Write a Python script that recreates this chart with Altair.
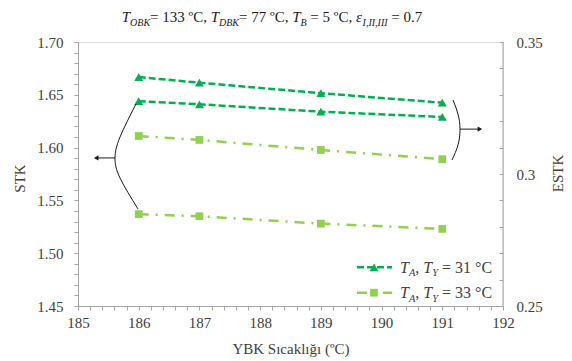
import altair as alt
import pandas as pd

FONT = "Times New Roman, Liberation Serif, serif"
DG = "#00B050"
LG = "#92D050"
AX = "#A6A6A6"
TXT = "#404040"
BLK = "#1a1a1a"

# ---------------- data ----------------
ybk = [186, 187, 189, 191]
stk_ty31 = [1.644, 1.641, 1.634, 1.629]
stk_ty33 = [1.537, 1.535, 1.528, 1.523]
estk_ty31 = [0.3367, 0.3346, 0.3306, 0.3270]
estk_ty33 = [0.3144, 0.3129, 0.3091, 0.3056]

x_ticks = [round(185 + 0.2 * i, 1) for i in range(36)]
stk_ticks = [round(1.45 + 0.01 * i, 2) for i in range(26)]
estk_ticks = [round(0.25 + 0.01 * i, 2) for i in range(11)]

# bracket annotations (data units)
lb_x = [185.955, 185.692, 185.609, 185.692, 185.988]
lb_y = [1.6413, 1.6100, 1.5902, 1.5712, 1.5419]
rb_x = [191.177, 191.259, 191.292, 191.259, 191.160]
rb_y = [0.3280, 0.3227, 0.3170, 0.3110, 0.3053]
l_arrow_x = [185.609, 185.30]
r_arrow_x = [191.292, 191.62]

title_pieces = [("T", 1, 0), ("OBK", 1, 1), ("= 133 ºC, ", 0, 0),
                ("T", 1, 0), ("DBK", 1, 1), ("= 77 ºC, ", 0, 0),
                ("T", 1, 0), ("B", 1, 1), (" = 5 ºC, ", 0, 0),
                ("ε", 1, 0), ("I,II,III", 1, 1), (" = 0.7", 0, 0)]
leg31 = [("T", 1, 0), ("A", 1, 1), (", ", 0, 0), ("T", 1, 0), ("Y", 1, 1), (" = 31 °C", 0, 0)]
leg33 = [("T", 1, 0), ("A", 1, 1), (", ", 0, 0), ("T", 1, 0), ("Y", 1, 1), (" = 33 °C", 0, 0)]

# ---------------- helpers ----------------
REG = {" ": 250, "=": 564, "º": 310, "°": 400, "C": 667, ",": 250, ".": 250}
for d in "0123456789":
    REG[d] = 500
ITA = {"T": 556, "O": 722, "B": 611, "K": 667, "D": 722, "I": 333, ",": 250,
       "A": 611, "Y": 556, "ε": 440}

dummy = pd.DataFrame({"k": [0]})


def w(s, it, size):
    tbl = ITA if it else REG
    return sum(tbl.get(c, 500) for c in s) / 1000.0 * size


def rich(pieces, x0, y0, size, sub_size, sub_dy, color, center=False):
    total = sum(w(t, it, sub_size if sb else size) for t, it, sb in pieces)
    x = x0 - total / 2 if center else x0
    out = []
    for t, it, sb in pieces:
        fs = sub_size if sb else size
        lead = len(t) - len(t.lstrip(" "))
        txt = t.strip(" ")
        xs = x + w(" " * lead, False, fs)
        out.append(
            alt.Chart(dummy).mark_text(
                text=txt, font=FONT, fontSize=fs,
                fontStyle="italic" if it else "normal",
                align="left", baseline="alphabetic", color=color
            ).encode(x=alt.value(xs), y=alt.value(y0 + (sub_dy if sb else 0)))
        )
        x += w(t, it, fs)
    return out


axis_common = dict(domainColor=AX, tickColor=AX, tickSize=4, labelFont=FONT,
                   labelFontSize=15, labelColor=TXT, titleFont=FONT, titleFontSize=15,
                   titleFontWeight="normal", titleColor=TXT, grid=False,
                   labelFlush=False, labelOverlap=False, labelBound=False)

X = alt.X("x:Q", scale=alt.Scale(domain=[185, 192], nice=False, zero=False),
          axis=alt.Axis(values=x_ticks, orient="bottom",
                        labelExpr="abs(datum.value - round(datum.value)) < 0.001 ? format(datum.value, 'd') : ''",
                        title="YBK Sıcaklığı (ºC)", labelPadding=5,
                        titleX=212.5, titleY=47, titleBaseline="alphabetic", titleAlign="center",
                        **axis_common))

YL = alt.Y("y:Q", scale=alt.Scale(domain=[1.45, 1.70], nice=False, zero=False),
           axis=alt.Axis(values=stk_ticks, orient="left",
                         labelExpr="abs(datum.value*20 - round(datum.value*20)) < 0.001 ? format(datum.value, '.2f') : ''",
                         title="STK", labelPadding=11, titleAngle=-90,
                         titleX=-54, titleY=136, titleBaseline="alphabetic", titleAlign="center",
                         **axis_common))

YR = alt.Y("y:Q", scale=alt.Scale(domain=[0.25, 0.35], nice=False, zero=False),
           axis=alt.Axis(values=estk_ticks, orient="right", offset=-4, domain=False,
                         labelExpr="abs(datum.value*20 - round(datum.value*20)) < 0.001 ? format(datum.value, '.2~f') : ''",
                         title="ESTK", labelPadding=13, titleAngle=-90,
                         titleX=63, titleY=131, titleBaseline="alphabetic", titleAlign="center",
                         **axis_common))


def series(xv, yv, color, dash, shape, size, Y):
    df = pd.DataFrame({"x": xv, "y": yv})
    line = alt.Chart(df).mark_line(color=color, strokeWidth=2.5, strokeDash=dash).encode(x=X, y=Y)
    pts = alt.Chart(df).mark_point(shape=shape, filled=True, size=size, color=color,
                                   opacity=1, strokeWidth=0).encode(x=X, y=Y)
    return [line, pts]


DASH1 = [7, 3]
DASH2 = [10, 7, 2, 7]


def bracket(xs, ys, Y):
    df = pd.DataFrame({"x": xs, "y": ys, "i": list(range(len(xs)))})
    return alt.Chart(df).mark_line(color=BLK, strokeWidth=1, interpolate="natural").encode(
        x=X, y=Y, order=alt.Order("i:Q"))


def arrow(xs, yv, shape, Y):
    df = pd.DataFrame({"x": xs, "y": [yv, yv]})
    ln = alt.Chart(df).mark_line(color=BLK, strokeWidth=1).encode(x=X, y=Y)
    head = alt.Chart(df.iloc[[1]]).mark_point(shape=shape, filled=True, size=28, color=BLK,
                                              opacity=1, strokeWidth=0).encode(x=X, y=Y)
    return [ln, head]


left_layers = []
left_layers += series(ybk, stk_ty31, DG, DASH1, "triangle-up", 80, YL)
left_layers += series(ybk, stk_ty33, LG, DASH2, "square", 60, YL)
left_layers.append(bracket(lb_x, lb_y, YL))
left_layers += arrow(l_arrow_x, lb_y[2], "triangle-left", YL)

# right border line
left_layers.append(alt.Chart(dummy).mark_rule(color=AX, strokeWidth=1).encode(
    x=alt.value(425), y=alt.value(0), y2=alt.value(264)))

# legend
for yrow, color, dash, shape, size, pieces in [
        (225.3, DG, DASH1, "triangle-up", 80, leg31),
        (250.7, LG, DASH2, "square", 60, leg33)]:
    left_layers.append(alt.Chart(dummy).mark_rule(color=color, strokeWidth=2.5, strokeDash=dash).encode(
        x=alt.value(279), x2=alt.value(314), y=alt.value(yrow)))
    left_layers.append(alt.Chart(dummy).mark_point(shape=shape, filled=True, size=size, color=color,
                                                   opacity=1, strokeWidth=0).encode(
        x=alt.value(296), y=alt.value(yrow)))
    left_layers += rich(pieces, 322, yrow + 5.5, 16, 10.5, 3.5, TXT)

# title
left_layers += rich(title_pieces, 194, -20, 15, 10, 3.5, BLK, center=True)

right_layers = []
right_layers += series(ybk, estk_ty31, DG, DASH1, "triangle-up", 80, YR)
right_layers += series(ybk, estk_ty33, LG, DASH2, "square", 60, YR)
right_layers.append(bracket(rb_x, rb_y, YR))
right_layers += arrow(r_arrow_x, rb_y[2], "triangle-right", YR)

chart = alt.layer(alt.layer(*left_layers), alt.layer(*right_layers)).resolve_scale(
    y="independent"
).properties(
    width=425, height=264,
    padding={"left": 78, "top": 42, "right": 69, "bottom": 55},
    autosize=alt.AutoSizeParams(type="none"),
).configure_view(stroke="transparent").configure(background="white")

chart.save("out.html", embed_options={"renderer": "svg", "actions": False})
